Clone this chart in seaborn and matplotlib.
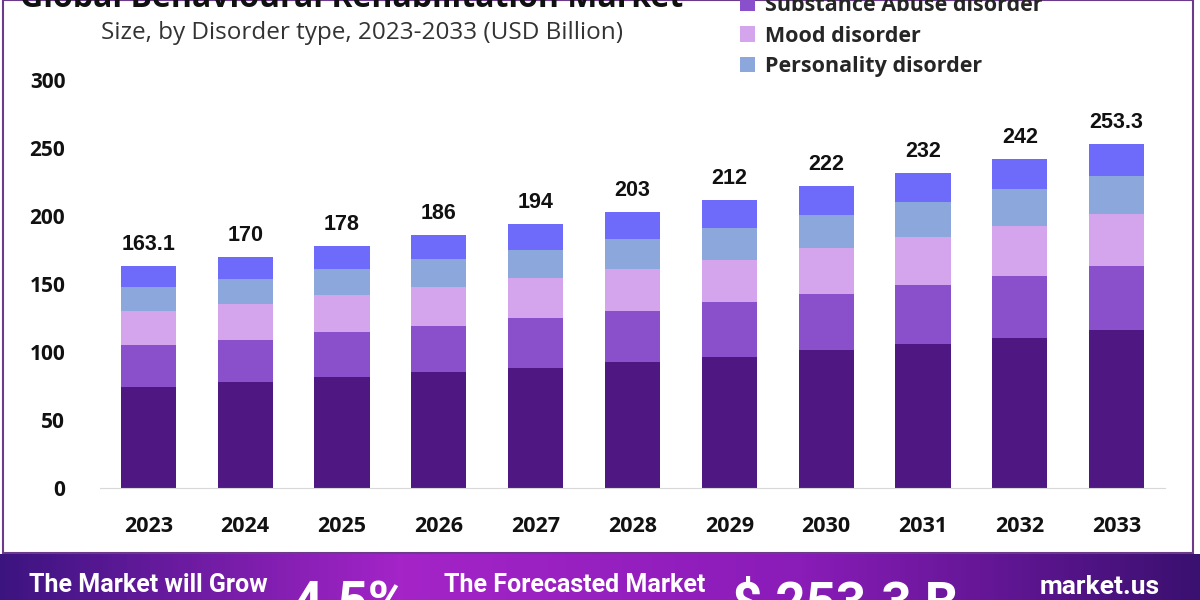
import matplotlib
matplotlib.use("Agg")
import matplotlib.pyplot as plt
import seaborn as sns
import numpy as np
import pandas as pd
from matplotlib.patches import Patch, Rectangle
from matplotlib.colors import LinearSegmentedColormap

years = ["2023", "2024", "2025", "2026", "2027", "2028", "2029", "2030", "2031", "2032", "2033"]
totals = ["163.1", "170", "178", "186", "194", "203", "212", "222", "232", "242", "253.3"]

anxiety = [74.4, 77.6, 81.6, 85.0, 88.6, 92.8, 96.4, 101.4, 106.1, 110.6, 115.9]
substance = [31.0, 31.5, 32.9, 34.3, 36.4, 37.5, 40.4, 41.5, 43.2, 45.4, 47.6]
mood = [24.8, 25.9, 27.2, 28.7, 29.1, 30.8, 31.1, 33.9, 35.0, 36.5, 38.0]
personality = [17.4, 18.5, 19.5, 20.5, 20.9, 22.2, 23.4, 24.2, 25.9, 27.2, 27.9]
others = [15.6, 16.5, 16.8, 17.5, 19.0, 19.7, 20.7, 21.0, 21.7, 22.2, 23.9]

series = ["Anxiety disorder", "Substance Abuse disorder", "Mood disorder",
          "Personality disorder", "Other disorders"]
colors = ["#4e1782", "#8a4fcb", "#d4a5ec", "#8ba7db", "#6e6bfa"]

df = pd.DataFrame({"year": years, series[0]: anxiety, series[1]: substance,
                   series[2]: mood, series[3]: personality, series[4]: others})

sns.set_style("white")
plt.rcParams["font.family"] = ["Open Sans", "DejaVu Sans"]

fig = plt.figure(figsize=(12, 6), dpi=100)
ax = fig.add_axes([100 / 1200, 1 - 488 / 600, 1065 / 1200, 408 / 600])

# stacked bars: draw cumulative heights from the top layer down
cum = df[series].cumsum(axis=1)
for name, c in zip(series[::-1], colors[::-1]):
    sns.barplot(x=df["year"], y=cum[name], color=c, width=0.57, ax=ax,
                saturation=1, edgecolor="none")

for i, t in enumerate(totals):
    ax.text(i, cum[series[-1]][i] + 8, t, ha="center", va="bottom",
            fontsize=15.5, fontweight="bold", family="Liberation Sans", color="#111")

ax.set_ylim(0, 300)
ax.set_xlim(-0.5, 10.5)
ax.set_yticks([0, 50, 100, 150, 200, 250, 300])
ax.set_xlabel("")
ax.set_ylabel("")
for s in ["top", "right", "left"]:
    ax.spines[s].set_visible(False)
ax.spines["bottom"].set_color("#d8d8d8")
ax.tick_params(axis="y", length=0, pad=25, labelsize=15)
ax.tick_params(axis="x", length=0, pad=20, labelsize=15.5)
for lab in ax.get_xticklabels() + ax.get_yticklabels():
    lab.set_fontweight("bold")
    lab.set_color("#111")

# title (cut at top) and subtitle
fig.text(352 / 1200, 1 - 7 / 600, "Global Behavioural Rehabilitation Market",
         ha="center", va="baseline", fontsize=23, fontweight="bold", color="#111")
fig.text(362 / 1200, 1 - 33 / 600, "Size, by Disorder type, 2023-2033 (USD Billion)",
         ha="center", va="center", fontsize=17.5, color="#333")

# legend, upper entries fall outside the picture
handles = [Patch(facecolor=c, edgecolor="none") for c in [colors[4], colors[0], colors[1], colors[2], colors[3]]]
labels = [series[4], series[0], series[1], series[2], series[3]]
fig.legend(handles, labels, loc="lower left", bbox_to_anchor=(729 / 1200, 1 - 88 / 600),
           frameon=False, prop={"size": 15.5, "weight": "bold"}, labelspacing=0.45,
           handlelength=0.7, handleheight=0.7, handletextpad=0.45, borderpad=0)

# frame around chart area
fig.add_artist(Rectangle((3 / 1200, 1 - 553 / 600), 1190 / 1200, 553 / 600,
                         transform=fig.transFigure, fill=False, edgecolor="#6b3a8a", lw=1.5))

# bottom banner
bax = fig.add_axes([0, 0, 1, 46 / 600])
cmap = LinearSegmentedColormap.from_list("b", ["#3c1480", "#a424c8", "#8a1cb8", "#3a1070"])
bax.imshow(np.linspace(0, 1, 256)[None, :], aspect="auto", cmap=cmap, extent=[0, 1, 0, 1])
bax.set_axis_off()
bax.set_xlim(0, 1)
bax.set_ylim(0, 1)
bax.text(148 / 1200, 1 - 19 / 46, "The Market will Grow", ha="center", va="top",
         fontsize=18, fontweight="bold", color="white", family="Roboto")
bax.text(350 / 1200, 1 - 26 / 46, "4.5%", ha="center", va="top",
         fontsize=38, fontweight="bold", color="white", family="Roboto")
bax.text(575 / 1200, 1 - 19 / 46, "The Forecasted Market", ha="center", va="top",
         fontsize=18, fontweight="bold", color="white", family="Roboto")
bax.text(845 / 1200, 1 - 26 / 46, "$ 253.3 B", ha="center", va="top",
         fontsize=38, fontweight="bold", color="white", family="Roboto")
bax.text(1100 / 1200, 1 - 21 / 46, "market.us", ha="center", va="top",
         fontsize=19, fontweight="bold", color="white", family="Roboto")

fig.savefig("out.png", dpi=100)
